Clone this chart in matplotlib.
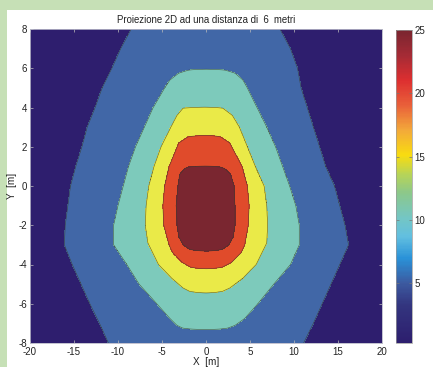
import numpy as np
import matplotlib
matplotlib.use("Agg")
import matplotlib.pyplot as plt
from matplotlib.colors import LinearSegmentedColormap, Normalize
from matplotlib.cm import ScalarMappable
from matplotlib.patches import Rectangle

plt.rcParams['font.family'] = ['Liberation Sans', 'DejaVu Sans']
plt.rcParams['axes.unicode_minus'] = False

# ---- data: where each contour level crosses (y, left x, right x) ----
levels = [5, 10, 15, 20, 25]

lv5_y  = [8, 7, 6, 5, 4, 3, 2, 1, 0, -1, -2, -3, -4, -5, -6, -7, -8]
lv5_xl = [-8.5, -9.7, -10.7, -11.8, -12.6, -13.5, -14.1, -14.8, -15.4, -15.7, -16.0, -16.1, -15.2, -14.2, -13.2, -12.1, -11.1]
lv5_xr = [8.4, 9.6, 10.4, 10.8, 11.5, 12.2, 12.9, 13.6, 14.6, 15.2, 15.8, 16.2, 15.2, 14.2, 13.2, 12.2, 11.1]

lv10_y  = [5.96, 5.9, 5.75, 5.4, 5, 4, 3, 2, 1, 0, -1, -2, -3, -4, -5, -6, -6.75, -7.1, -7.25, -7.33]
lv10_xl = [-0.3, -2.0, -3.1, -4.1, -4.7, -6.0, -7.0, -8.0, -8.8, -9.4, -10.0, -10.5, -10.5, -9.0, -7.6, -5.6, -4.1, -3.3, -2.6, -0.3]
lv10_xr = [0.3, 2.2, 3.3, 4.2, 4.7, 5.8, 6.9, 7.9, 8.7, 9.5, 10.2, 10.6, 10.6, 9.6, 7.7, 5.9, 4.4, 3.3, 2.4, 0.3]

lv15_y  = [4.03, 3.97, 3.6, 3, 2, 1, 0, -1, -2, -2.9, -4, -4.7, -5.2, -5.38, -5.45]
lv15_xl = [-0.3, -2.6, -3.3, -4.0, -5.1, -5.9, -6.5, -6.8, -6.9, -6.6, -5.4, -3.9, -2.6, -1.8, -0.3]
lv15_xr = [0.3, 1.9, 3.0, 3.8, 4.7, 5.6, 6.6, 6.9, 7.0, 6.9, 5.7, 4.2, 2.7, 1.8, 0.3]

lv20_y  = [2.58, 2.52, 2.2, 1, 0, -1, -2, -3, -3.4, -3.9, -4.15, -4.22]
lv20_xl = [-0.3, -2.0, -3.1, -4.2, -4.7, -4.9, -4.8, -4.2, -3.8, -2.7, -1.7, -0.3]
lv20_xr = [0.3, 1.6, 2.7, 4.1, 4.7, 4.9, 4.8, 4.4, 4.0, 2.9, 1.8, 0.3]

lv25_y  = [1.03, 0.97, 0.9, 0.6, 0, -1, -2, -2.6, -3.0, -3.25, -3.32]
lv25_xl = [-0.3, -2.0, -2.4, -3.0, -3.2, -3.4, -3.3, -3.1, -2.6, -1.8, -0.3]
lv25_xr = [0.3, 1.6, 2.1, 2.8, 3.2, 3.3, 3.3, 3.1, 2.6, 1.8, 0.3]

cbar_min, cbar_max = 0.26, 25.0
cbar_ticks = [5, 10, 15, 20, 25]
x_ticks = [-20, -15, -10, -5, 0, 5, 10, 15, 20]
y_ticks = [-8, -6, -4, -2, 0, 2, 4, 6, 8]
title = "Proiezione 2D ad una distanza di  6  metri"

crossings = [(lv5_y, lv5_xl, lv5_xr), (lv10_y, lv10_xl, lv10_xr),
             (lv15_y, lv15_xl, lv15_xr), (lv20_y, lv20_xl, lv20_xr),
             (lv25_y, lv25_xl, lv25_xr)]

# ---- build the field from the level crossings ----
xs = np.linspace(-20, 20, 801)
ys = np.linspace(-8, 8, 481)
Z = np.zeros((len(ys), len(xs)))
for i, yv in enumerate(ys):
    left_x, left_z, right_x, right_z = [], [], [], []
    top = 0
    for lev, (cy, cl, cr) in zip(levels, crossings):
        cy_a = np.array(cy)[::-1]
        if cy_a.min() <= yv <= cy_a.max():
            left_x.append(np.interp(yv, cy_a, np.array(cl)[::-1]))
            right_x.append(np.interp(yv, cy_a, np.array(cr)[::-1]))
            left_z.append(lev)
            right_z.append(lev)
            top = lev
    cx = 0.5 * (left_x[-1] + right_x[-1])
    nx = [-20.5] + left_x + [cx] + right_x[::-1] + [20.5]
    nz = [1.0] + left_z + [top + 2.5] + right_z[::-1] + [1.0]
    Z[i] = np.interp(xs, nx, nz)
X, Y = np.meshgrid(xs, ys)

band_colors = ['#2E1E6E', '#4167A7', '#7DCABB', '#EAEA48', '#E04B2B', '#7A2630']
cmap = LinearSegmentedColormap.from_list('mjet', [
    (0.00, '#2D1E6E'), (0.12, '#33357F'), (0.19, '#3C5AA0'), (0.27, '#2A92D8'),
    (0.34, '#62BFE0'), (0.40, '#74C6C4'), (0.48, '#8CC88A'), (0.54, '#B8D456'),
    (0.60, '#F8DC10'), (0.68, '#F3A93A'), (0.76, '#E9603A'), (0.84, '#DD2F30'),
    (0.92, '#A52B35'), (1.00, '#7A2530')])

W, H = 433, 367
fig = plt.figure(figsize=(W / 100, H / 100), dpi=100)
fig.patch.set_facecolor('#C6E0B6')
bg = Rectangle((7.5 / W, 0), 1, 1 - 9.5 / H, transform=fig.transFigure,
               facecolor='white', edgecolor='none', zorder=-10)
fig.patches.append(bg)

ax = fig.add_axes([30 / W, 1 - 343 / H, 352 / W, 314 / H])
ax.contourf(X, Y, Z, levels=[0] + levels + [30], colors=band_colors)
ax.contour(X, Y, Z, levels=levels, colors='#3a3a2a', linewidths=0.45, alpha=0.75)
ax.set_xlim(-20, 20)
ax.set_ylim(-8, 8)
ax.set_xticks(x_ticks)
ax.set_yticks(y_ticks)
ax.tick_params(direction='in', length=2.5, width=0.5, color='#bbbbbb',
               top=True, right=True, labelsize=7, pad=2, labelcolor='#222222')
ax.tick_params(axis='x', pad=3)
for s in ax.spines.values():
    s.set_color('#b8b8c8')
    s.set_linewidth(0.6)
ax.set_title(title, fontsize=6.9, pad=4, color='#222222')
ax.set_xlabel("X  [m]", fontsize=7.2, labelpad=0, color='#222222')
ax.set_ylabel("Y  [m]", fontsize=7.2, labelpad=1, color='#222222')

cax = fig.add_axes([396 / W, 1 - 343 / H, 16 / W, 313 / H])
sm = ScalarMappable(norm=Normalize(cbar_min, cbar_max), cmap=cmap)
cb = fig.colorbar(sm, cax=cax, ticks=cbar_ticks)
cb.outline.set_linewidth(0.5)
cb.outline.set_edgecolor('#999999')
cax.tick_params(direction='in', length=2.5, width=0.5, color='#777777',
                left=True, right=True, labelsize=7, pad=2, labelcolor='#222222')

fig.savefig('out.png', dpi=100)
